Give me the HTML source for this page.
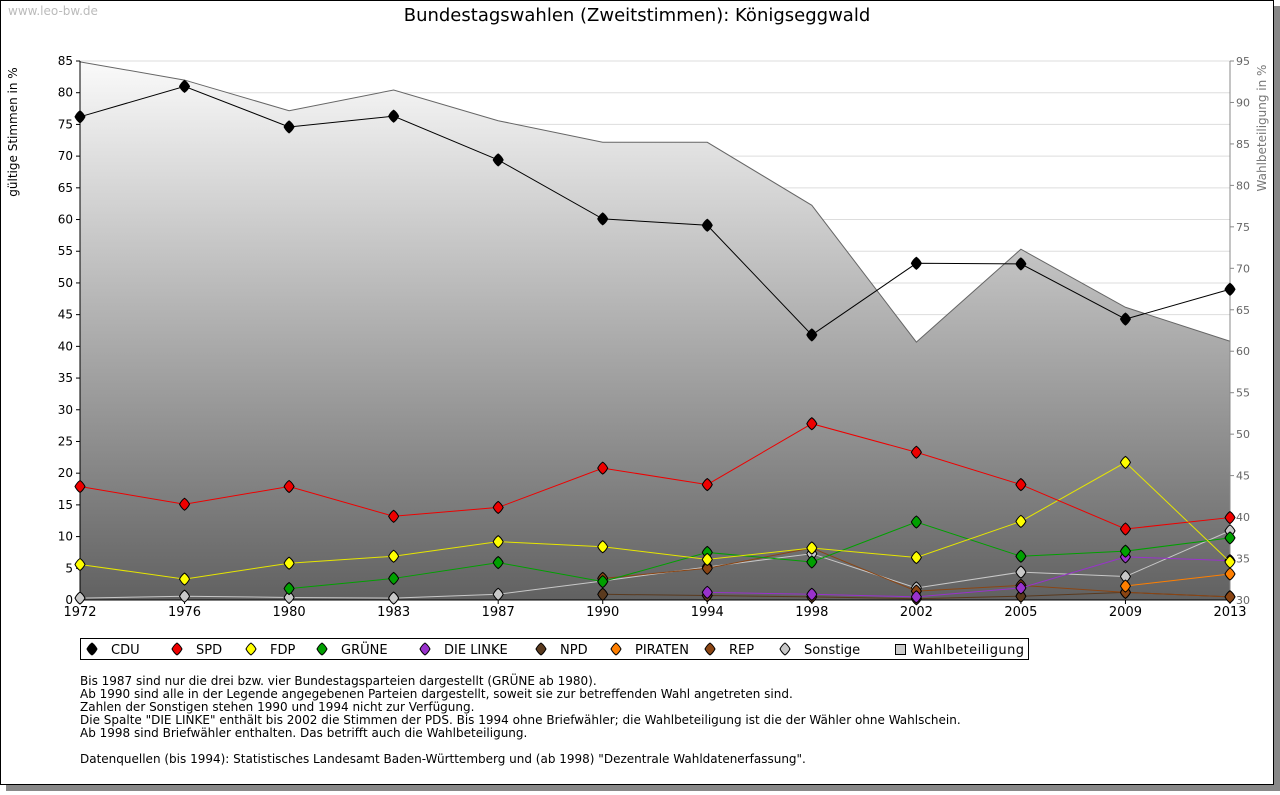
<!DOCTYPE html>
<html><head><meta charset="utf-8"><style>
body{margin:0;background:#fff;font-family:"DejaVu Sans","Liberation Sans",sans-serif;}
#wrap{position:relative;width:1280px;height:791px;}
</style></head><body>
<div id="wrap">
<svg id="svg" width="1280" height="791" xmlns="http://www.w3.org/2000/svg" style="font-family:'DejaVu Sans','Liberation Sans',sans-serif">
<defs><linearGradient id="ag" x1="0" y1="0" x2="0" y2="1"><stop offset="0" stop-color="#fafafa"/><stop offset="1" stop-color="#616161"/></linearGradient></defs>
<rect x="6" y="6" width="1274" height="785" fill="#888"/>
<rect x="0.5" y="0.5" width="1273" height="784" fill="#fff" stroke="#000"/>
<text x="8" y="15" font-size="12" fill="#bbb">www.leo-bw.de</text>
<text x="637" y="21" font-size="18" text-anchor="middle">Bundestagswahlen (Zweitstimmen): Königseggwald</text>
<text transform="translate(17,132) rotate(-90)" font-size="12" text-anchor="middle">gültige Stimmen in %</text>
<text transform="translate(1266,128) rotate(-90)" font-size="12" fill="#777" text-anchor="middle">Wahlbeteiligung in %</text>
<g id="grid"></g><g id="area"></g><g id="axes"></g><g id="series"></g><g id="legend"></g>
<g font-size="12">
<text x="80" y="685">Bis 1987 sind nur die drei bzw. vier Bundestagsparteien dargestellt (GRÜNE ab 1980).</text>
<text x="80" y="698">Ab 1990 sind alle in der Legende angegebenen Parteien dargestellt, soweit sie zur betreffenden Wahl angetreten sind.</text>
<text x="80" y="711">Zahlen der Sonstigen stehen 1990 und 1994 nicht zur Verfügung.</text>
<text x="80" y="724">Die Spalte "DIE LINKE" enthält bis 2002 die Stimmen der PDS. Bis 1994 ohne Briefwähler; die Wahlbeteiligung ist die der Wähler ohne Wahlschein.</text>
<text x="80" y="737">Ab 1998 sind Briefwähler enthalten. Das betrifft auch die Wahlbeteiligung.</text>
<text x="80" y="763">Datenquellen (bis 1994): Statistisches Landesamt Baden-Württemberg und (ab 1998) "Dezentrale Wahldatenerfassung".</text>
</g>
</svg></div>
<script>
const years=["1972","1976","1980","1983","1987","1990","1994","1998","2002","2005","2009","2013"];
const leftTicks=[0,5,10,15,20,25,30,35,40,45,50,55,60,65,70,75,80,85];
const rightTicks=[30,35,40,45,50,55,60,65,70,75,80,85,90,95];
const turnout=[94.9,92.7,89.0,91.5,87.8,85.2,85.2,77.6,61.1,72.3,65.3,61.2];
const cdu=[76.2,81.0,74.6,76.3,69.4,60.1,59.1,41.8,53.1,53.0,44.3,49.0];
const spd=[17.9,15.1,17.9,13.2,14.6,20.8,18.2,27.8,23.3,18.2,11.2,13.0];
const fdp=[5.6,3.3,5.8,6.9,9.2,8.4,6.4,8.2,6.7,12.4,21.7,6.0];
const gruene=[null,null,1.8,3.4,5.9,2.9,7.5,6.0,12.3,6.9,7.7,9.8];
const linke=[null,null,null,null,null,null,1.2,0.9,0.5,1.9,6.8,6.2];
const npd=[null,null,null,null,null,0.9,0.7,0.5,0.2,0.6,1.2,0.5];
const piraten=[null,null,null,null,null,null,null,null,null,null,2.2,4.1];
const rep=[null,null,null,null,null,3.4,5.0,8.2,1.4,2.3,1.2,0.5];
const sonstige=[0.3,0.6,0.4,0.3,0.9,3.0,5.2,7.3,1.9,4.4,3.7,10.9];
const NS="http://www.w3.org/2000/svg";
const X0=80,X1=1230,Y0=600,YT=61;
const xs=i=>X0+i*(X1-X0)/(years.length-1);
const yl=v=>Y0-v*(Y0-YT)/85;
const yr=v=>Y0-(v-30)*(Y0-YT)/65;
function mk(tag,attrs,parent){const e=document.createElementNS(NS,tag);for(const k in attrs)e.setAttribute(k,attrs[k]);document.getElementById(parent).appendChild(e);return e;}
function dia(x,y){return `M${x},${y-6} Q${x+3},${y-4} ${x+5},${y} Q${x+3},${y+4} ${x},${y+6} Q${x-3},${y+4} ${x-5},${y} Q${x-3},${y-4} ${x},${y-6} Z`;}
leftTicks.forEach(t=>{if(t>0){const g=mk('line',{x1:X0,x2:X1,y1:yl(t),y2:yl(t),stroke:'#ddd'},'grid');

}
const l=mk('text',{x:X0-7,y:yl(t)+4,'font-size':12,'text-anchor':'end'},'axes');l.textContent=t;


mk('line',{x1:X0-4,x2:X0,y1:yl(t),y2:yl(t),stroke:'#000'},'axes');});
rightTicks.forEach(t=>{const l=mk('text',{x:X1+6,y:yr(t)+4,'font-size':11,fill:'#666'},'axes');l.textContent=t;


mk('line',{x1:X1,x2:X1+4,y1:yr(t),y2:yr(t),stroke:'#888'},'axes');});
let d='M'+xs(0)+','+Y0;turnout.forEach((v,i)=>d+=' L'+xs(i)+','+yr(v));d+=' L'+xs(turnout.length-1)+','+Y0+' Z';
const ar=mk('path',{d:d,fill:'url(#ag)'},'area');


const tl=mk('polyline',{points:turnout.map((v,i)=>xs(i)+','+yr(v)).join(' '),fill:'none',stroke:'#666','stroke-width':1},'area');


mk('line',{x1:X0,x2:X0,y1:YT,y2:Y0,stroke:'#000'},'axes');
mk('line',{x1:X1,x2:X1,y1:YT,y2:Y0,stroke:'#888'},'axes');
mk('line',{x1:X0,x2:X1,y1:Y0,y2:Y0,stroke:'#000'},'axes');
years.forEach((y,i)=>{const l=mk('text',{x:xs(i),y:Y0+16,'font-size':13,'text-anchor':'middle'},'axes');l.textContent=y;


mk('line',{x1:xs(i),x2:xs(i),y1:Y0,y2:Y0+4,stroke:'#000'},'axes');});
const series=[["sonstige",sonstige,"#c8c8c8"],["npd",npd,"#5a3a1e"],["rep",rep,"#8b4513"],["piraten",piraten,"#ff7f00"],["linke",linke,"#9932cc"],["gruene",gruene,"#00a000"],["fdp",fdp,"#ffff00"],["spd",spd,"#ee0000"],["cdu",cdu,"#000000"]];
series.forEach(([n,arr,c])=>{let seg=[];const flush=()=>{if(seg.length>1){const p=mk('polyline',{points:seg.join(' '),fill:'none',stroke:c==="#ffff00"?"#e6e600":c,'stroke-width':1},'series');

}seg=[];};
arr.forEach((v,i)=>{if(v===null){flush();return;}seg.push(xs(i)+','+yl(v));});flush();
arr.forEach((v,i)=>{if(v===null)return;const x=xs(i),y=yl(v);
const m=mk('path',{d:dia(x,y),fill:c,stroke:'#000','stroke-width':1},'series');

});});
const leg=[["CDU","#000"],["SPD","#ee0000"],["FDP","#ffff00"],["GRÜNE","#00a000"],["DIE LINKE","#9932cc"],["NPD","#5a3a1e"],["PIRATEN","#ff7f00"],["REP","#8b4513"],["Sonstige","#c8c8c8"]];
const lb=mk('rect',{x:80.5,y:638.5,width:948,height:21,fill:'#fff',stroke:'#000'},'legend');


const lx=[92,177,251,322,425,541,616,710,785];
leg.forEach(([t,c],i)=>{const x=lx[i];
const m=mk('path',{d:dia(x,649),fill:c,stroke:'#000'},'legend');


const l=mk('text',{x:x+19,y:654,'font-size':13},'legend');l.textContent=t;

});
const sq=mk('rect',{x:895.5,y:644.5,width:10,height:10,fill:'#ccc',stroke:'#000'},'legend');


const wl=mk('text',{x:913,y:654,'font-size':13,textLength:111},'legend');wl.textContent='Wahlbeteiligung';


</script>
</body></html>
